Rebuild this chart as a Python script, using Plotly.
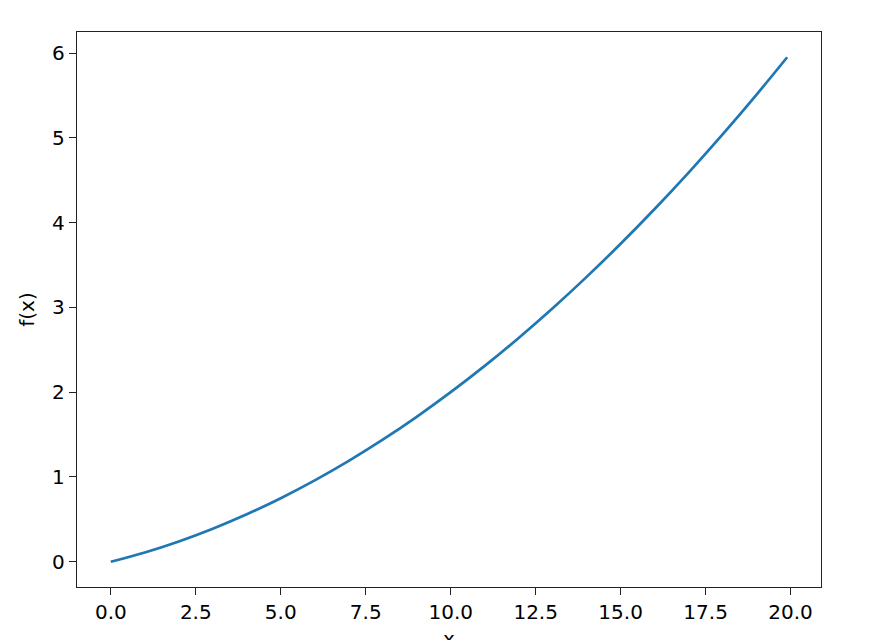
import plotly.graph_objects as go

# values
x_vals = [0, 1, 2, 3, 4, 5, 6, 7, 8, 9, 10, 11, 12, 13, 14, 15, 16, 17, 18, 19, 19.9]
y_vals = [0, 0.11, 0.24, 0.39, 0.56, 0.75, 0.96, 1.19, 1.44, 1.71, 2.0,
          2.31, 2.64, 2.99, 3.36, 3.75, 4.16, 4.59, 5.04, 5.51, 5.95]

x_ticks = [0, 2.5, 5, 7.5, 10, 12.5, 15, 17.5, 20]
y_ticks = [0, 1, 2, 3, 4, 5, 6]

fig = go.Figure()
fig.add_trace(go.Scatter(
    x=x_vals, y=y_vals,
    mode='lines',
    line=dict(color='#1f77b4', width=2.7, shape='spline'),
    showlegend=False
))

axis_style = dict(
    showline=True, linecolor='#222222', linewidth=1.3, mirror=True,
    showgrid=False, zeroline=False,
    ticks='outside', ticklen=7, tickwidth=1.3, tickcolor='#222222',
    tickfont=dict(family='DejaVu Sans', size=20, color='black'),
    automargin=False,
)

# page body has an 8px margin, so the figure is sized to fit inside it
fig.update_layout(
    width=875, height=632,
    margin=dict(l=69, r=62, t=24, b=53),
    plot_bgcolor='white', paper_bgcolor='white',
    font=dict(family='DejaVu Sans', size=20, color='black'),
    xaxis=dict(axis_style, range=[-0.995, 20.895], tickvals=x_ticks,
               tickformat='.1f'),
    yaxis=dict(axis_style, range=[-0.2975, 6.2476], tickvals=y_ticks,
               title=dict(text='f(x)', standoff=12,
                          font=dict(family='DejaVu Sans', size=20))),
)

# x label sits at the very bottom edge, as in the original (partly cut off)
fig.add_annotation(
    text='x', xref='paper', yref='paper', x=0.5, y=0,
    xanchor='center', yanchor='top', yshift=-38, showarrow=False,
    font=dict(family='DejaVu Sans', size=20, color='black')
)

fig.write_html("out.html")
